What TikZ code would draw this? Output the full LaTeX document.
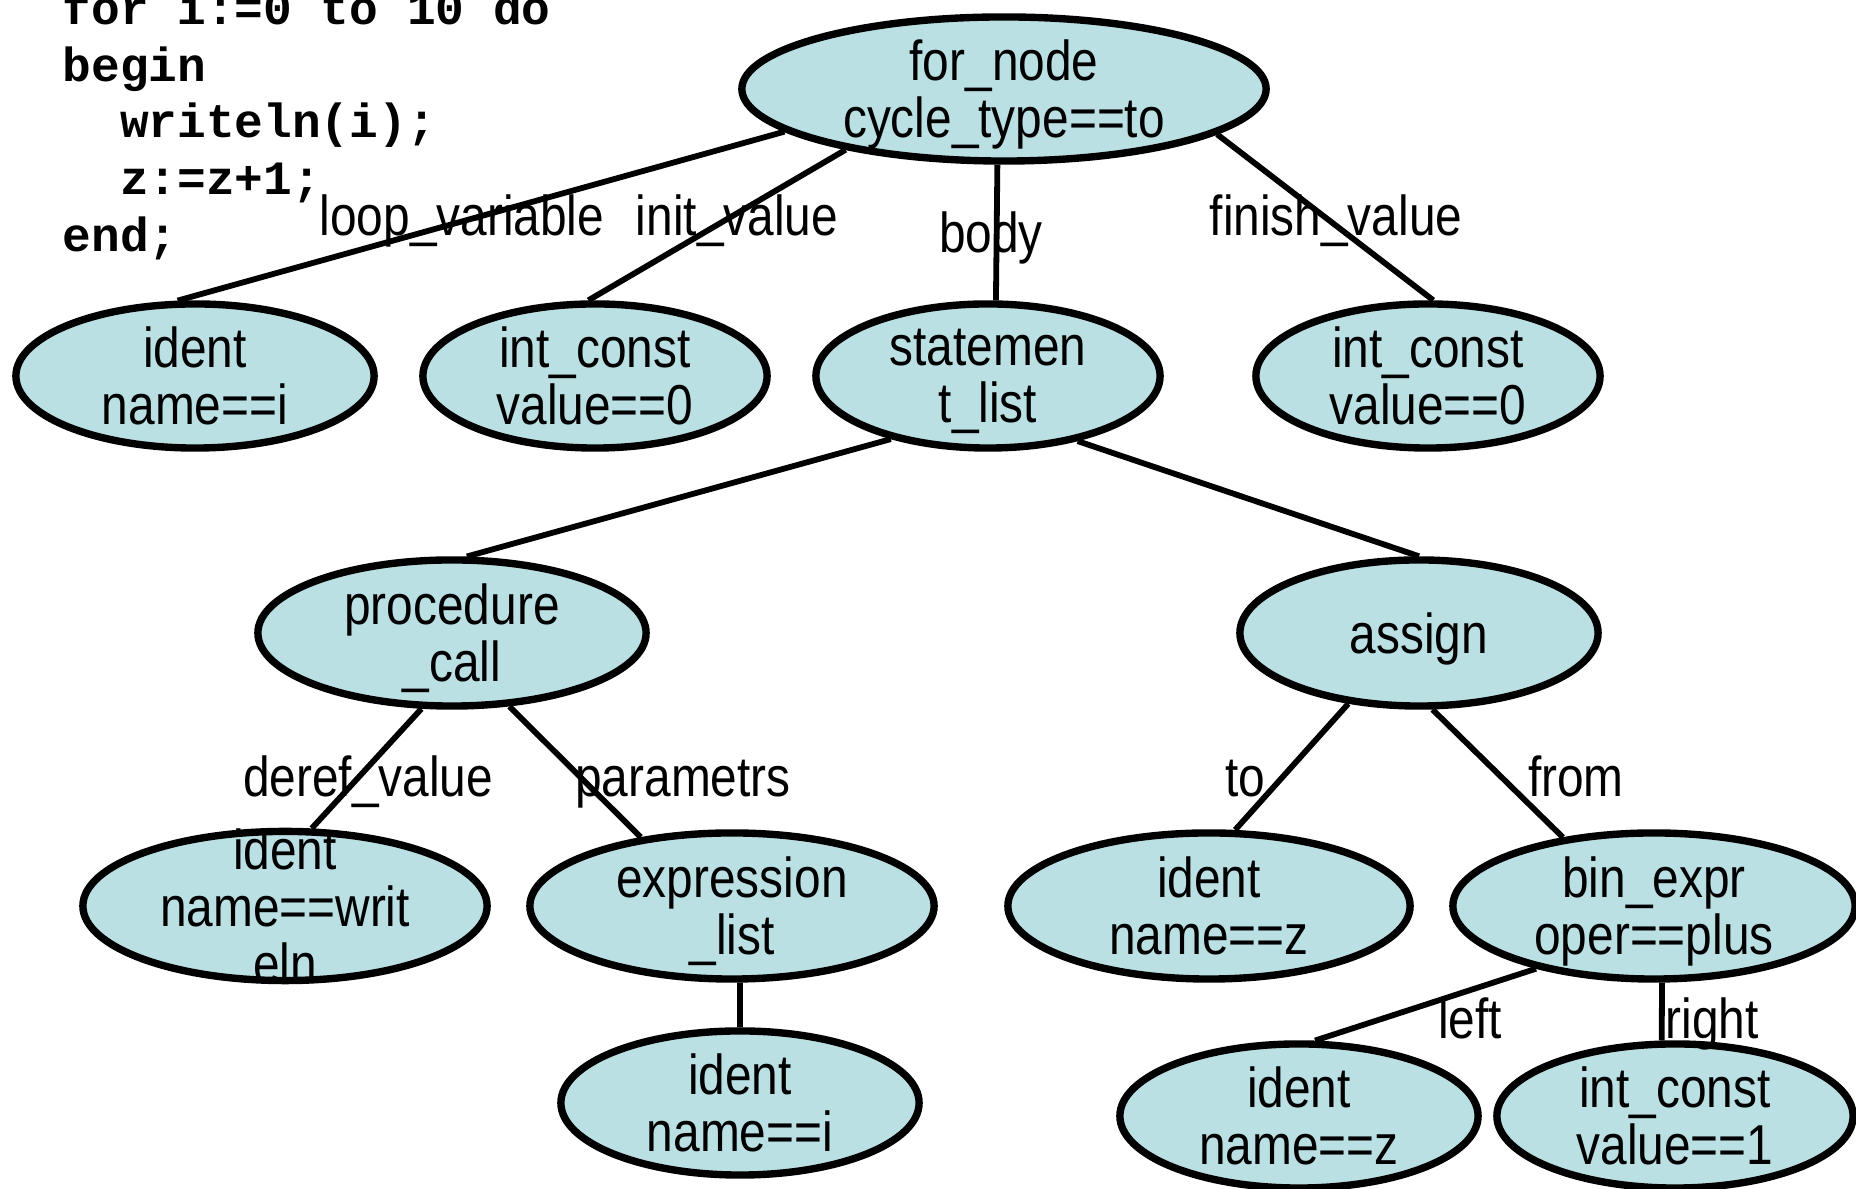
\documentclass[tikz,border=0pt]{standalone}
\usepackage{fontspec}
\setmainfont{Liberation Sans}
\newfontfamily\astfont[FakeStretch=0.85]{Liberation Sans}
\newfontfamily\codefont{Liberation Mono}
\usetikzlibrary{shapes.geometric}
\definecolor{astfill}{RGB}{186,224,228}

\begin{document}
\begin{tikzpicture}
[ x=0.01cm, y=-0.01cm
, ast/.style={ellipse, draw, line width=2.1pt, fill=astfill, inner xsep=0pt, inner ysep=-1pt, text depth=0pt, minimum width=3.44cm, minimum height=1.44cm, align=center, font=\fontsize{16}{16.2}\selectfont\astfont}
, rel/.style={anchor=base, inner sep=0pt, font=\fontsize{16}{16.2}\selectfont\astfont}
, code/.style={anchor=north west, inner sep=0pt, align=left, font=\fontsize{13.6}{16.2}\selectfont\codefont\bfseries}
, link/.style={line width=1.65pt}
]

\useasboundingbox (0,0) rectangle (1856,1189);

\node[code] (src) at (62,-12) {for i:=0 to 10 do\\begin\\\hspace*{1.2em}writeln(i);\\\hspace*{1.2em}z:=z+1;\\end;};

\node[ast, minimum width=5.24cm] (fornode) at (1004,89) {for\_node\\cycle\_type==to};

\node[ast, minimum width=3.58cm] (identI) at (195,376) {ident\\name==i};
\node[ast] (initC) at (595,376) {int\_const\\value==0};
\node[ast] (stmtL) at (988,376) {statemen\\t\_list};
\node[ast] (finC)  at (1428,376) {int\_const\\value==0};

\node[ast, minimum width=3.88cm, minimum height=1.46cm] (procC) at (452,633) {procedure\\\_call};
\node[ast, minimum width=3.58cm, minimum height=1.46cm] (asgn)  at (1419,633) {assign};

\node[ast, minimum width=4.04cm, minimum height=1.46cm, inner ysep=-7pt] (identW) at (285,906) {ident\\name==writ\\eln};
\node[ast, minimum width=4.04cm, minimum height=1.46cm] (exprL) at (732,906) {expression\\\_list};
\node[ast, minimum width=4.02cm, minimum height=1.46cm] (identZ) at (1209,906) {ident\\name==z};
\node[ast, minimum width=4.02cm, minimum height=1.46cm] (binE) at (1654,906) {bin\_expr\\oper==plus};

\node[ast, minimum width=3.58cm] (identI2) at (740,1103) {ident\\name==i};
\node[ast, minimum width=3.58cm] (identZ2) at (1299,1116) {ident\\name==z};
\node[ast, minimum width=3.56cm] (oneC) at (1675,1116) {int\_const\\value==1};

\draw[link] (fornode.191) -- (identI.103);
\draw[link] (fornode.201) -- (initC.95);
\draw[link] (fornode.265) -- (stmtL.84);
\draw[link] (fornode.348) -- (finC.86);
\draw[link] (stmtL.213) -- (procC.79);
\draw[link] (stmtL.324) -- (asgn.90);
\draw[link] (procC.248) -- (identW.71);
\draw[link] (procC.308) -- (exprL.143);
\draw[link] (asgn.225) -- (identZ.71);
\draw[link] (asgn.280) -- (binE.143);
\draw[link] (exprL.276) -- (identI2.90);
\draw[link] (binE.208) -- (identZ2.78);
\draw[link] (binE.276) -- (oneC.100);

\node[rel] (lblLoop)  at (462,236)  {loop\_variable};
\node[rel] (lblInit)  at (737,236)  {init\_value};
\node[rel] (lblBody)  at (991,253)  {body};
\node[rel] (lblFin)   at (1336,236) {finish\_value};
\node[rel] (lblDeref) at (368,797)  {deref\_value};
\node[rel] (lblPar)   at (683,797)  {parametrs};
\node[rel] (lblTo)    at (1245,797) {to};
\node[rel] (lblFrom)  at (1576,797) {from};
\node[rel] (lblLeft)  at (1470,1039) {left};
\node[rel] (lblRight) at (1712,1039) {right};

\end{tikzpicture}
\end{document}
